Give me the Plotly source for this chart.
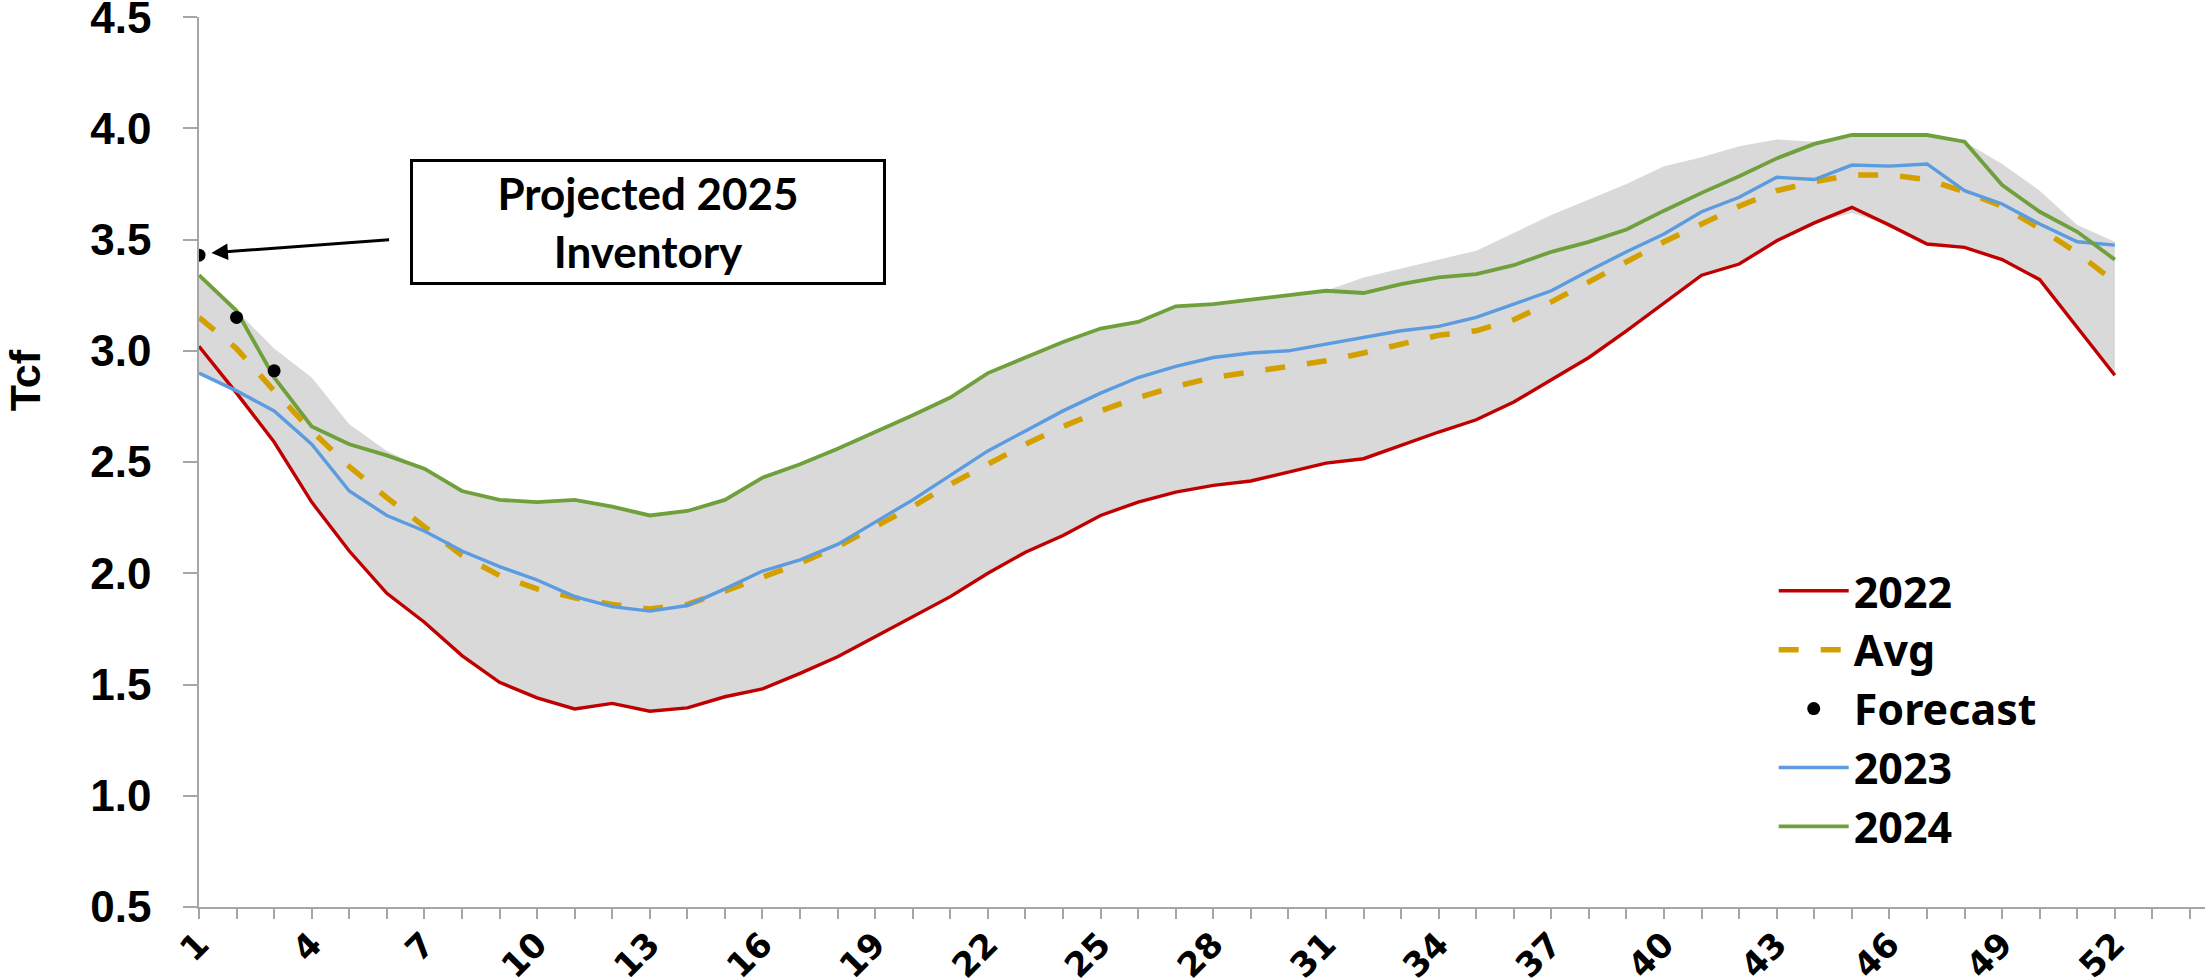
import plotly.graph_objects as go

# ---------------- data ----------------
weeks = list(range(1, 53))

y2022 = [3.02, 2.81, 2.59, 2.32, 2.10, 1.91, 1.78, 1.63, 1.51, 1.44,
         1.39, 1.415, 1.38, 1.395, 1.445, 1.48, 1.55, 1.625, 1.715, 1.805,
         1.895, 2.00, 2.095, 2.17, 2.26, 2.32, 2.365, 2.395, 2.415, 2.455,
         2.495, 2.515, 2.575, 2.635, 2.69, 2.77, 2.87, 2.97, 3.09, 3.215,
         3.34, 3.39, 3.495, 3.575, 3.645, 3.565, 3.48, 3.465, 3.41, 3.32,
         3.105, 2.89]

avg = [3.15, 3.01, 2.82, 2.64, 2.48, 2.34, 2.21, 2.08, 1.99, 1.93,
       1.89, 1.86, 1.84, 1.86, 1.92, 1.985, 2.045, 2.12, 2.21, 2.30,
       2.40, 2.49, 2.58, 2.66, 2.73, 2.79, 2.84, 2.88, 2.905, 2.93,
       2.955, 2.99, 3.03, 3.07, 3.09, 3.14, 3.22, 3.31, 3.40, 3.49,
       3.57, 3.65, 3.72, 3.76, 3.79, 3.79, 3.77, 3.715, 3.65, 3.55,
       3.44, 3.31]

y2023 = [2.90, 2.82, 2.73, 2.58, 2.37, 2.26, 2.19, 2.10, 2.03, 1.97,
         1.895, 1.85, 1.83, 1.855, 1.93, 2.01, 2.06, 2.13, 2.23, 2.33,
         2.44, 2.55, 2.64, 2.73, 2.81, 2.88, 2.93, 2.97, 2.99, 3.00,
         3.03, 3.06, 3.09, 3.11, 3.15, 3.21, 3.27, 3.36, 3.445, 3.525,
         3.625, 3.69, 3.78, 3.77, 3.835, 3.83, 3.84, 3.72, 3.66, 3.57,
         3.49, 3.475]

y2024 = [3.34, 3.18, 2.88, 2.66, 2.58, 2.53, 2.47, 2.37, 2.33, 2.32,
         2.33, 2.30, 2.26, 2.28, 2.33, 2.43, 2.49, 2.56, 2.635, 2.71,
         2.79, 2.90, 2.97, 3.04, 3.10, 3.13, 3.20, 3.21, 3.23, 3.25,
         3.27, 3.26, 3.30, 3.33, 3.345, 3.385, 3.445, 3.49, 3.545, 3.63,
         3.71, 3.785, 3.865, 3.93, 3.97, 3.97, 3.97, 3.94, 3.745, 3.625,
         3.535, 3.41]

band_high = [3.34, 3.18, 3.01, 2.88, 2.67, 2.55, 2.47, 2.37, 2.33, 2.32,
             2.33, 2.30, 2.26, 2.28, 2.33, 2.43, 2.49, 2.56, 2.635, 2.71,
             2.79, 2.90, 2.97, 3.04, 3.10, 3.13, 3.20, 3.21, 3.23, 3.25,
             3.27, 3.33, 3.37, 3.41, 3.45, 3.53, 3.61, 3.68, 3.75, 3.83,
             3.87, 3.92, 3.95, 3.94, 3.97, 3.97, 3.97, 3.94, 3.84, 3.72,
             3.565, 3.49]

band_low = [2.90, 2.81, 2.59, 2.32, 2.10, 1.91, 1.78, 1.63, 1.51, 1.44,
            1.39, 1.415, 1.38, 1.395, 1.445, 1.48, 1.55, 1.625, 1.715, 1.805,
            1.895, 2.00, 2.095, 2.17, 2.26, 2.32, 2.365, 2.395, 2.415, 2.455,
            2.495, 2.515, 2.575, 2.635, 2.69, 2.77, 2.87, 2.97, 3.09, 3.215,
            3.34, 3.39, 3.495, 3.575, 3.62, 3.565, 3.48, 3.465, 3.41, 3.32,
            3.105, 2.89]

forecast_weeks = [1, 2, 3]
forecast = [3.43, 3.15, 2.91]

tick_weeks = list(range(1, 55))
tick_labels = [str(w) if (w - 1) % 3 == 0 and w <= 52 else "" for w in tick_weeks]
y_ticks = [0.5, 1.0, 1.5, 2.0, 2.5, 3.0, 3.5, 4.0, 4.5]

annotation_text = "Projected 2025<br>Inventory"
y_title = "Tcf"

# ---------------- styles ----------------
RED = "#C00000"
GOLD = "#D4A000"
BLUE = "#5B9BDF"
GREEN = "#70A03C"
BAND = "#D9D9D9"
AXIS = "#A6A6A6"

fig = go.Figure()

fig.add_trace(go.Scatter(x=weeks, y=band_low, mode="lines",
                         line=dict(width=0, color=BAND), showlegend=False,
                         hoverinfo="skip"))
fig.add_trace(go.Scatter(x=weeks, y=band_high, mode="lines", fill="tonexty",
                         fillcolor=BAND, line=dict(width=0, color=BAND),
                         showlegend=False, hoverinfo="skip"))

fig.add_trace(go.Scatter(x=weeks, y=y2022, mode="lines", name="2022",
                         line=dict(color=RED, width=3.4), legendrank=1))
fig.add_trace(go.Scatter(x=weeks, y=avg, mode="lines", name="Avg",
                         line=dict(color=GOLD, width=5.5, dash="20px,22px"),
                         legendrank=2))
fig.add_trace(go.Scatter(x=weeks, y=y2023, mode="lines", name="2023",
                         line=dict(color=BLUE, width=3.4), legendrank=4))
fig.add_trace(go.Scatter(x=weeks, y=y2024, mode="lines", name="2024",
                         line=dict(color=GREEN, width=3.8), legendrank=5))
fig.add_trace(go.Scatter(x=forecast_weeks, y=forecast, mode="markers",
                         name="Forecast",
                         marker=dict(color="black", size=13), legendrank=3))

fig.update_layout(
    width=2205, height=980,
    margin=dict(l=199, r=0, t=17, b=73, autoexpand=False),
    paper_bgcolor="white", plot_bgcolor="white",
    showlegend=True,
    legend=dict(
        x=0.785, y=0.394, xanchor="left", yanchor="top",
        traceorder="normal",
        font=dict(family="Noto Sans", size=43, color="black", weight="bold"),
        bgcolor="rgba(0,0,0,0)", itemwidth=70,
    ),
    xaxis=dict(
        range=[1, 54.4], tickmode="array", tickvals=tick_weeks,
        ticktext=tick_labels, tickangle=-45, ticks="outside", ticklen=10,
        tickcolor=AXIS, tickwidth=1.5, showline=True, linecolor=AXIS,
        linewidth=1.5, showgrid=False, zeroline=False, automargin=False,
        ticklabeloverflow="allow", ticklabelstandoff=-8,
        tickfont=dict(family="DejaVu Sans", size=34, color="black",
                      weight="bold"),
    ),
    yaxis=dict(
        range=[0.5, 4.5005], tickmode="array", tickvals=y_ticks,
        tickformat=".1f",
        ticks="outside", ticklen=14, tickcolor=AXIS, tickwidth=1.5,
        showline=True, linecolor=AXIS, linewidth=1.5, showgrid=False,
        zeroline=False, ticklabelstandoff=23, automargin=False,
        ticklabeloverflow="allow",
        tickfont=dict(family="Liberation Sans", size=44, color="black",
                      weight="bold"),
    ),
)

# y-axis title (placed as in the reference, above the middle)
fig.add_annotation(x=-0.0867, y=0.592, xref="paper", yref="paper",
                   text=y_title, showarrow=False, textangle=-90,
                   xanchor="center", yanchor="middle",
                   font=dict(family="Liberation Sans", size=43,
                             color="black", weight="bold"))

# arrow pointing at the projected inventory
fig.add_annotation(x=1.33, y=3.44, xref="x", yref="y", ax=6.1, ay=3.50,
                   axref="x", ayref="y", text="", showarrow=True,
                   arrowhead=2, arrowsize=1.1, arrowwidth=3,
                   arrowcolor="black")

# text box
fig.add_annotation(x=0.2236, y=0.7697, xref="paper", yref="paper",
                   xanchor="center", yanchor="middle", text=annotation_text,
                   showarrow=False, width=470, height=120,
                   bordercolor="black", borderwidth=3, borderpad=0,
                   bgcolor="white", align="center",
                   font=dict(family="Lato", size=44, color="black",
                             weight="bold"))

fig.write_html("out.html",
               config={"displayModeBar": False},
               post_script="document.body.style.margin='0';"
                           "document.body.style.overflow='hidden';")
